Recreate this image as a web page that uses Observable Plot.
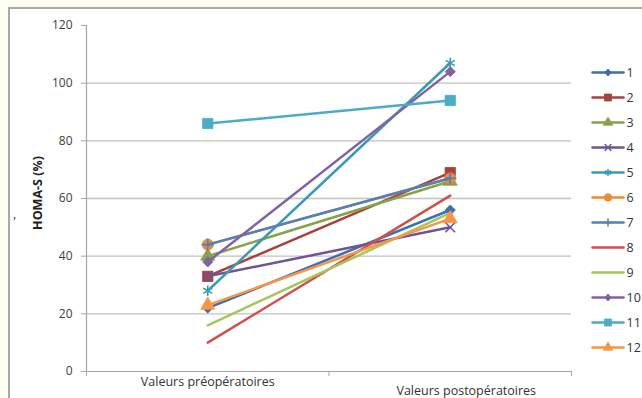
<!DOCTYPE html>
<html>
<head>
<meta charset="utf-8">
<script src="https://cdn.jsdelivr.net/npm/d3@7"></script>
<script src="https://cdn.jsdelivr.net/npm/@observablehq/plot@0.6"></script>
<style>
  body { margin: 0; background: #fefef0; }
  #chart { position: relative; width: 642px; height: 398px; overflow: hidden; background: #fefef0; font-family: "Open Sans", sans-serif; }
  #frame { position: absolute; left: 8px; top: 7px; width: 632px; height: 389px; border-left: 2px solid #a9a9a9; border-top: 2px solid #a9a9a9; background: #fff; }
  #legend { position: absolute; left: 585px; top: 50px; width: 57px; height: 320px; }
</style>
</head>
<body>
<div id="chart"><div id="frame"></div><div id="legend"></div></div>
<script>
// Patients 1–12, HOMA-S before and after surgery
const categories = ["Valeurs préopératoires", "Valeurs postopératoires"];
const series = ["1", "2", "3", "4", "5", "6", "7", "8", "9", "10", "11", "12"];
const preop  = [22, 33, 40, 33, 28, 44, 44, 10, 16, 38, 86, 23];
const postop = [56, 69, 66, 50, 107, 67, 67, 61, 55, 104, 94, 53];
const yTicks = [0, 20, 40, 60, 80, 100, 120];
const yTitle = "HOMA-S (%)";
const stray = "’";

const colors = ["#3f6fb0", "#a8413d", "#86a24a", "#6e5495", "#3a9ab5", "#e88a3a",
                "#4f81bd", "#d0504c", "#a4c65a", "#8064a2", "#4bacc6", "#f79646"];
const symbols = ["diamond2", "square", "triangle", "times", "asterisk", "circle",
                 "plus", null, null, "diamond2", "square", "triangle"];
const stroked = new Set(["times", "asterisk", "plus"]);
const sizes = {diamond2: 4.6, square: 5.8, triangle: 5.2, times: 4.5, asterisk: 5, circle: 5.6, plus: 4};

// long format: one row per patient and phase
const rows = series.flatMap((s, i) => [
  {serie: s, phase: 0, value: preop[i]},
  {serie: s, phase: 1, value: postop[i]}
]);

function markerMarks(data, i, x, y, scale) {
  const sym = symbols[i];
  if (!sym) return [];
  const r = sizes[sym] * scale;
  return stroked.has(sym)
    ? [Plot.dot(data, {x, y, symbol: () => sym, r, stroke: colors[i], strokeWidth: 1.6, fill: "none"})]
    : [Plot.dot(data, {x, y, symbol: () => sym, r, fill: colors[i], stroke: colors[i], strokeWidth: 0.8})];
}

const seriesMarks = series.flatMap((s, i) => {
  const d = rows.filter(r => r.serie === s);
  const x = r => r.phase + 0.5;
  return [
    Plot.line(d, {x, y: "value", stroke: colors[i], strokeWidth: 2.5}),
    ...markerMarks(d, i, x, "value", 1)
  ];
});

const chart = Plot.plot({
  width: 632,
  height: 389,
  marginLeft: 76,
  marginRight: 71,
  marginTop: 16,
  marginBottom: 27,
  style: {background: "transparent", fontFamily: "'Open Sans', sans-serif", fontSize: "12px", color: "#404040", overflow: "visible"},
  x: {domain: [0, 2]},
  y: {domain: [0, 120]},
  marks: [
    Plot.ruleY(yTicks.filter(v => v > 0 && v < 120), {stroke: "#c2c2c2", strokeWidth: 1.3}),
    Plot.ruleX([0], {y1: 0, y2: 120, stroke: "#a6a6a6", strokeWidth: 1.2}),
    Plot.ruleY([0], {stroke: "#a6a6a6", strokeWidth: 1.2}),
    Plot.axisY({ticks: yTicks, tickSize: 5, tickPadding: 9, label: null, stroke: "#a6a6a6", fill: "#404040", fontSize: 12}),
    Plot.axisX({ticks: [0, 1, 2], tickSize: 5, tickFormat: () => "", label: null, stroke: "#a6a6a6"}),
    Plot.text([categories[0]], {x: 0.5, y: 0, dy: 10, fontSize: 12.5, fill: "#333"}),
    Plot.text([categories[1]], {x: 1.5, y: 0, dx: 16, dy: 19, fontSize: 12.5, fill: "#333"}),
    Plot.text([yTitle], {frameAnchor: "left", textAnchor: "middle", rotate: -90, dx: -48.5, dy: -5.5, fontSize: 12.5, fontWeight: "bold", fill: "#222"}),
    Plot.text([stray], {frameAnchor: "left", dx: -73, dy: 24, fontSize: 12, fill: "#333"}),
    ...seriesMarks
  ]
});
document.getElementById("frame").append(chart);

// legend: one short line + marker per patient
const legendRows = series.flatMap(s => [{serie: s, t: 0}, {serie: s, t: 1}]);
const legendMarks = series.flatMap((s, i) => {
  const d = legendRows.filter(r => r.serie === s);
  return [
    Plot.line(d, {x: "t", y: "serie", stroke: colors[i], strokeWidth: 2.5}),
    ...markerMarks([{serie: s, t: 0.5}], i, "t", "serie", 0.68)
  ];
});
const legend = Plot.plot({
  width: 57,
  height: 320,
  marginLeft: 7,
  marginRight: 19,
  marginTop: 21,
  marginBottom: 23,
  style: {background: "transparent", overflow: "visible", fontFamily: "'Open Sans', sans-serif"},
  x: {domain: [0, 1], axis: null},
  y: {type: "point", domain: series, padding: 0, axis: null},
  marks: [
    ...legendMarks,
    Plot.text(series, {x: () => 1, y: d => d, dx: 3, textAnchor: "start", fontSize: 12.5, fill: "#333"})
  ]
});
document.getElementById("legend").append(legend);
</script>
</body>
</html>
